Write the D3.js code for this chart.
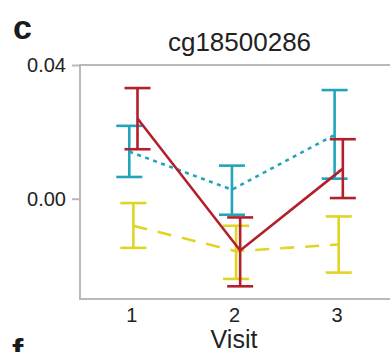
<!DOCTYPE html>
<html>
<head>
<meta charset="utf-8">
<script src="https://cdn.jsdelivr.net/npm/d3@7"></script>
<style>
  body { margin: 0; background: #fff; }
  svg { display: block; font-family: "Liberation Sans", Arial, sans-serif; }
</style>
</head>
<body>
<svg id="chart" width="390" height="352"></svg>
<script>
// data
const visits = [1, 2, 3];
const yTicks = [0.00, 0.04];
const title = "cg18500286";

// yellow (dashed)
const yellowMean = [-0.0081, -0.0157, -0.0137];
const yellowLo = [-0.0147, -0.0240, -0.0221];
const yellowHi = [-0.0013, -0.0081, -0.0053];
// cyan (dotted)
const cyanMean = [0.0141, 0.0027, 0.0191];
const cyanLo = [0.0065, -0.0048, 0.0060];
const cyanHi = [0.0218, 0.0099, 0.0325];
// red (solid)
const redMean = [0.0240, -0.0155, 0.0090];
const redLo = [0.0148, -0.0262, 0.0002];
const redHi = [0.0331, -0.0056, 0.0178];

const series = [
  { name: "yellow", mean: yellowMean, lo: yellowLo, hi: yellowHi, color: "#e0d424", dash: "14,11", dodge: 0.02 },
  { name: "cyan", mean: cyanMean, lo: cyanLo, hi: cyanHi, color: "#22a5bb", dash: "4,4.5", dodge: -0.02 },
  { name: "red", mean: redMean, lo: redLo, hi: redHi, color: "#b41f2b", dash: null, dodge: 0.06 }
];

const svg = d3.select("#chart");
const m = { left: 80, right: 388, top: 65, bottom: 299 };

const x = d3.scaleLinear().domain([0.5, 3.5]).range([m.left, m.right]);
const y = d3.scaleLinear().domain([-0.03, 0.04]).range([m.bottom, m.top]);

// panel labels
svg.append("text").attr("x", 13).attr("y", 39)
  .attr("font-size", 34).attr("font-weight", "bold").attr("fill", "#1a1a1a").text("c");
svg.append("text").attr("x", 12).attr("y", 362)
  .attr("font-size", 34).attr("font-weight", "bold").attr("fill", "#1a1a1a").text("f");

// title
svg.append("text").attr("x", 239.5).attr("y", 51).attr("text-anchor", "middle")
  .attr("font-size", 26).attr("fill", "#222").text(title);

// frame
svg.append("rect")
  .attr("x", m.left).attr("y", m.top)
  .attr("width", 400 - m.left).attr("height", m.bottom - m.top)
  .attr("fill", "none").attr("stroke", "#b9b9bd").attr("stroke-width", 2);

// y axis
const yAxis = svg.append("g").attr("transform", `translate(${m.left},0)`)
  .call(d3.axisLeft(y).tickValues(yTicks).tickFormat(d3.format(".2f")).tickSize(8).tickPadding(6));
yAxis.select(".domain").remove();
yAxis.selectAll(".tick line").attr("stroke", "#b9b9bd").attr("stroke-width", 2);
yAxis.selectAll(".tick text").attr("font-size", 20).attr("fill", "#222")
  .attr("font-family", "Liberation Sans, Arial, sans-serif");

// x axis labels
const xAxis = svg.append("g").attr("transform", `translate(0,${m.bottom})`)
  .call(d3.axisBottom(x).tickValues(visits).tickFormat(d3.format("d")).tickSize(0).tickPadding(9));
xAxis.select(".domain").remove();
xAxis.selectAll(".tick text").attr("font-size", 20).attr("fill", "#222")
  .attr("font-family", "Liberation Sans, Arial, sans-serif");

svg.append("text").attr("x", 234).attr("y", 348).attr("text-anchor", "middle")
  .attr("font-size", 25).attr("fill", "#222").text("Visit");

// series
const cap = 13;
series.forEach(s => {
  const pts = visits.map((v, i) => ({ v, m: s.mean[i], lo: s.lo[i], hi: s.hi[i] }));
  const g = svg.append("g");
  const px = d => x(d.v + s.dodge);

  g.append("path")
    .datum(pts)
    .attr("d", d3.line().x(px).y(d => y(d.m)))
    .attr("fill", "none").attr("stroke", s.color).attr("stroke-width", 2.6)
    .attr("stroke-dasharray", s.dash);

  const eb = g.selectAll("g.eb").data(pts).join("g").attr("class", "eb")
    .attr("stroke", s.color).attr("stroke-width", 2.6);
  eb.append("line")
    .attr("x1", px).attr("x2", px)
    .attr("y1", d => y(d.lo)).attr("y2", d => y(d.hi));
  eb.append("line")
    .attr("x1", d => px(d) - cap).attr("x2", d => px(d) + cap)
    .attr("y1", d => y(d.hi)).attr("y2", d => y(d.hi));
  eb.append("line")
    .attr("x1", d => px(d) - cap).attr("x2", d => px(d) + cap)
    .attr("y1", d => y(d.lo)).attr("y2", d => y(d.lo));
});
</script>
</body>
</html>
